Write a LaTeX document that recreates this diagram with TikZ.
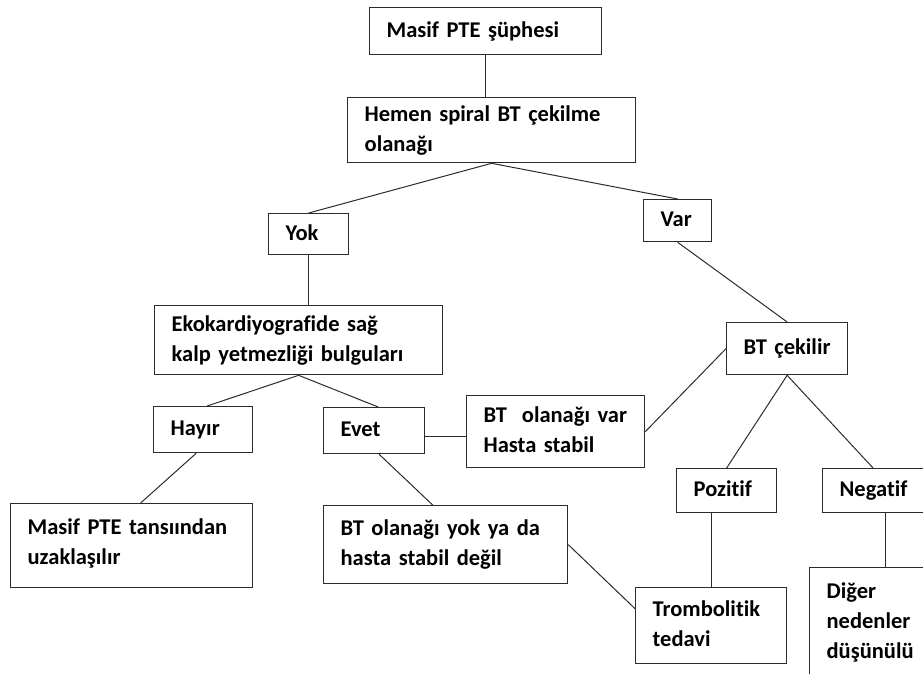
\documentclass[tikz,border=0pt]{standalone}
\usepackage{fontspec}
\setmainfont{Carlito}[Ligatures=NoCommon]
\usetikzlibrary{positioning}
\usepackage{xcolor}
\definecolor{edge}{HTML}{2B2B2B}
\tikzset{
  bx/.style={draw=edge, line width=1.3pt, anchor=north west, align=left, inner xsep=17pt, inner ysep=0pt,
    font=\bfseries\fontsize{22.5}{30}\selectfont, text=black,
    execute at begin node=\strut, execute at end node=\strut},
  lift/.style={execute at end node={\par\vspace*{#1}}},
  ln/.style={draw=edge, line width=1pt},
}

\begin{document}
\begin{tikzpicture}[x=1pt, y=-1pt]
\useasboundingbox (0,0) rectangle (923,673);
\clip (0,0) rectangle (923,673);

% top of the tree
\node[bx, text width=198pt, minimum height=47pt] (susp) at (369,7) {Masif PTE şüphesi};
\node[bx, text width=254pt, minimum height=65pt] (spiral) at (347,97) {Hemen spiral BT çekilme\\olanağı};
\node[bx, text width=46pt, minimum height=41pt] (yok) at (268,213) {Yok};
\node[bx, text width=34pt, minimum height=42pt] (var) at (643,199) {Var};

% left branch
\node[bx, text width=254pt, minimum height=69pt] (eko) at (154,305) {Ekokardiyografide sağ\\kalp yetmezliği bulguları};
\node[bx, text width=65pt, minimum height=46pt] (hayir) at (153,406) {Hayır};
\node[bx, text width=67pt, minimum height=46pt] (evet) at (323,407) {Evet};
\node[bx, lift=5pt, text width=208pt, minimum height=84pt] (uzak) at (10,503) {Masif PTE tansıından\\uzaklaşılır};
\node[bx, text width=144pt, minimum height=72pt] (btvar) at (466,395) {BT \ olanağı var\\Hasta stabil};
\node[bx, text width=210pt, minimum height=78pt] (btyok) at (323,505) {BT olanağı yok ya da\\hasta stabil değil};

% right branch
\node[bx, text width=87pt, minimum height=52pt] (cekilir) at (726,322) {BT çekilir};
\node[bx, text width=66pt, minimum height=44pt] (poz) at (676,468) {Pozitif};
\node[bx, text width=80pt, minimum height=44pt] (neg) at (822,468) {Negatif};
\node[bx, text width=117pt, minimum height=76pt] (tromb) at (635,587) {Trombolitik\\tedavi};
\node[bx, lift=2pt, text width=110pt, minimum height=112pt] (diger) at (809,567) {Diğer\\nedenler\\düşünülü};

\draw[ln] (susp) -- (susp |- spiral.north);
\draw[ln] (spiral.south) -- (yok.north);
\draw[ln] (spiral.south) -- (var.north);
\draw[ln] (yok.south) -- (yok.south |- eko.north);
\draw[ln] (eko.south) -- ([xshift=4pt]hayir.north);
\draw[ln] (eko.south) -- ([xshift=4pt]evet.north);
\draw[ln] ([xshift=-7pt]hayir.south) -- ([xshift=9pt]uzak.north);
\draw[ln] ([yshift=-6pt]evet.east) -- ([yshift=-6pt]evet.east -| btvar.west);
\draw[ln] ([xshift=5pt]evet.south) -- ([xshift=-13pt]btyok.north);
\draw[ln] (btvar.east) -- (cekilir.west);
\draw[ln] (var.south) -- (cekilir.north);
\draw[ln] (cekilir.south) -- (poz.north);
\draw[ln] (cekilir.south) -- ([xshift=51pt]neg.north west);
\draw[ln] ([xshift=-15pt]poz.south) -- ([xshift=-15pt]poz.south |- tromb.north);
\draw[ln] ([xshift=63pt]neg.south west) -- ([xshift=63pt]neg.south west |- diger.north);
\draw[ln] (btyok.east) -- ([yshift=17pt]tromb.west);
\end{tikzpicture}
\end{document}
